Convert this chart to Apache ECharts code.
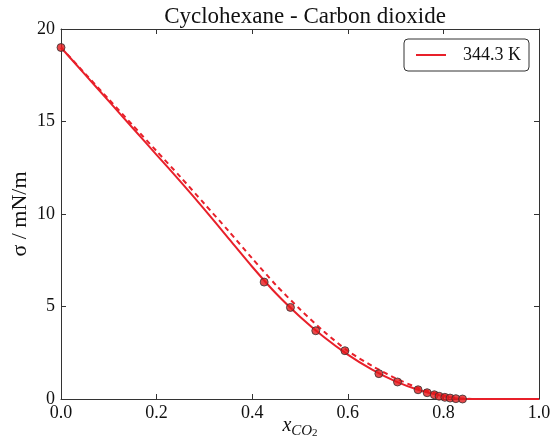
<!DOCTYPE html>
<html>
<head>
<meta charset="utf-8">
<script src="https://cdn.jsdelivr.net/npm/echarts@6/dist/echarts.min.js"></script>
<style>
  html, body { margin: 0; padding: 0; background: #fff; }
  #chart { width: 558px; height: 442px; }
</style>
</head>
<body>
<div id="chart"></div>
<script>
// model curve (solid) and second model (dashed), x = mole fraction CO2
var xModel = [0, 0.05, 0.1, 0.15, 0.2, 0.25, 0.3, 0.35, 0.4, 0.45, 0.5, 0.55, 0.6, 0.65, 0.7, 0.75, 0.8, 0.82, 0.84, 0.86, 0.9, 0.95, 1.0];
var sSolid = [19.0, 17.55, 16.1, 14.65, 13.2, 11.75, 10.25, 8.7, 7.15, 5.7, 4.45, 3.35, 2.4, 1.6, 0.95, 0.47, 0.15, 0.06, 0.0, 0.0, 0.0, 0.0, 0.0];
var sDashed = [19.0, 17.6, 16.2, 14.8, 13.4, 12.0, 10.55, 9.1, 7.6, 6.15, 4.85, 3.65, 2.6, 1.8, 1.12, 0.57, 0.2, 0.09, 0.03, 0.0, 0.0, 0.0, 0.0];

// experimental points
var xExp = [0.0, 0.425, 0.48, 0.533, 0.594, 0.665, 0.704, 0.747, 0.766, 0.781, 0.791, 0.803, 0.814, 0.826, 0.840];
var sExp = [19.0, 6.32, 4.95, 3.69, 2.61, 1.37, 0.92, 0.50, 0.34, 0.23, 0.15, 0.09, 0.05, 0.02, 0.0];

var legendName = '344.3 K';
var red = '#e8202a';

function pairs(xs, ys) {
  var out = [];
  for (var i = 0; i < xs.length; i++) out.push([xs[i], ys[i]]);
  return out;
}

var myChart = echarts.init(document.getElementById('chart'));
var font = 'Liberation Serif';
var axisLine = { show: true, onZero: false, lineStyle: { color: '#333', width: 1 } };
var tick = { show: true, inside: true, length: 5, lineStyle: { color: '#333' } };

var option = {
  animation: false,
  backgroundColor: '#fff',
  title: {
    text: 'Cyclohexane - Carbon dioxide',
    left: 300, top: 0, textAlign: 'center',
    textStyle: { fontFamily: font, fontSize: 23, fontWeight: 'normal', color: '#111' }
  },
  legend: {
    data: [legendName],
    right: 29, top: 39,
    icon: 'path://M0,0 L30,0 L30,2 L0,2 Z',
    itemWidth: 30, itemHeight: 2, itemGap: 10,
    padding: [7, 8, 7, 12],
    borderColor: '#333', borderWidth: 1, borderRadius: 4,
    textStyle: { fontFamily: font, fontSize: 18, color: '#111', padding: [0, 0, 0, 12] }
  },
  grid: { left: 61, right: 19, top: 29, bottom: 43, outerBoundsMode: 'none', containLabel: false },
  xAxis: [{
    type: 'value', min: 0, max: 1, interval: 0.2,
    axisLine: axisLine, axisTick: tick, splitLine: { show: false },
    axisLabel: { fontFamily: font, fontSize: 18, color: '#111', margin: 5,
      formatter: function (v) { return v.toFixed(1); } },
    name: '{i|x}{s|CO}{ss|2}', nameLocation: 'middle', nameGap: 14, nameMoveOverlap: false,
    nameTextStyle: {
      rich: {
        i: { fontFamily: font, fontStyle: 'italic', fontSize: 20, color: '#111' },
        s: { fontFamily: font, fontStyle: 'italic', fontSize: 15, color: '#111', verticalAlign: 'bottom', padding: [9, 0, 0, 0] },
        ss: { fontFamily: font, fontSize: 11, color: '#111', verticalAlign: 'bottom', padding: [15, 0, 0, 0] }
      }
    }
  }, {
    type: 'value', position: 'top', min: 0, max: 1, interval: 0.2,
    axisLine: axisLine, axisTick: tick, axisLabel: { show: false }, splitLine: { show: false }
  }],
  yAxis: [{
    type: 'value', min: 0, max: 20, interval: 5,
    axisLine: axisLine, axisTick: tick, splitLine: { show: false },
    axisLabel: { fontFamily: font, fontSize: 18, color: '#111', margin: 6 },
    name: 'σ / mN/m', nameLocation: 'middle', nameGap: 30, nameRotate: 90, nameMoveOverlap: false,
    nameTextStyle: { fontFamily: font, fontSize: 22, color: '#111' }
  }, {
    type: 'value', position: 'right', min: 0, max: 20, interval: 5,
    axisLine: axisLine, axisTick: tick, axisLabel: { show: false }, splitLine: { show: false }
  }],
  series: [{
    name: legendName, type: 'line', data: pairs(xModel, sSolid),
    showSymbol: false, symbol: 'none', smooth: 0.25,
    lineStyle: { color: red, width: 2 }, itemStyle: { color: red }, z: 3
  }, {
    name: 'dashed', type: 'line', data: pairs(xModel, sDashed),
    showSymbol: false, symbol: 'none', smooth: 0.25,
    lineStyle: { color: red, width: 2, type: [5, 4] }, itemStyle: { color: red }, z: 3
  }, {
    name: 'exp', type: 'scatter', data: pairs(xExp, sExp),
    symbol: 'circle', symbolSize: 8,
    itemStyle: { color: '#e3191c', borderColor: '#333', borderWidth: 1 }, z: 4
  }]
};

myChart.setOption(option);
</script>
</body>
</html>
